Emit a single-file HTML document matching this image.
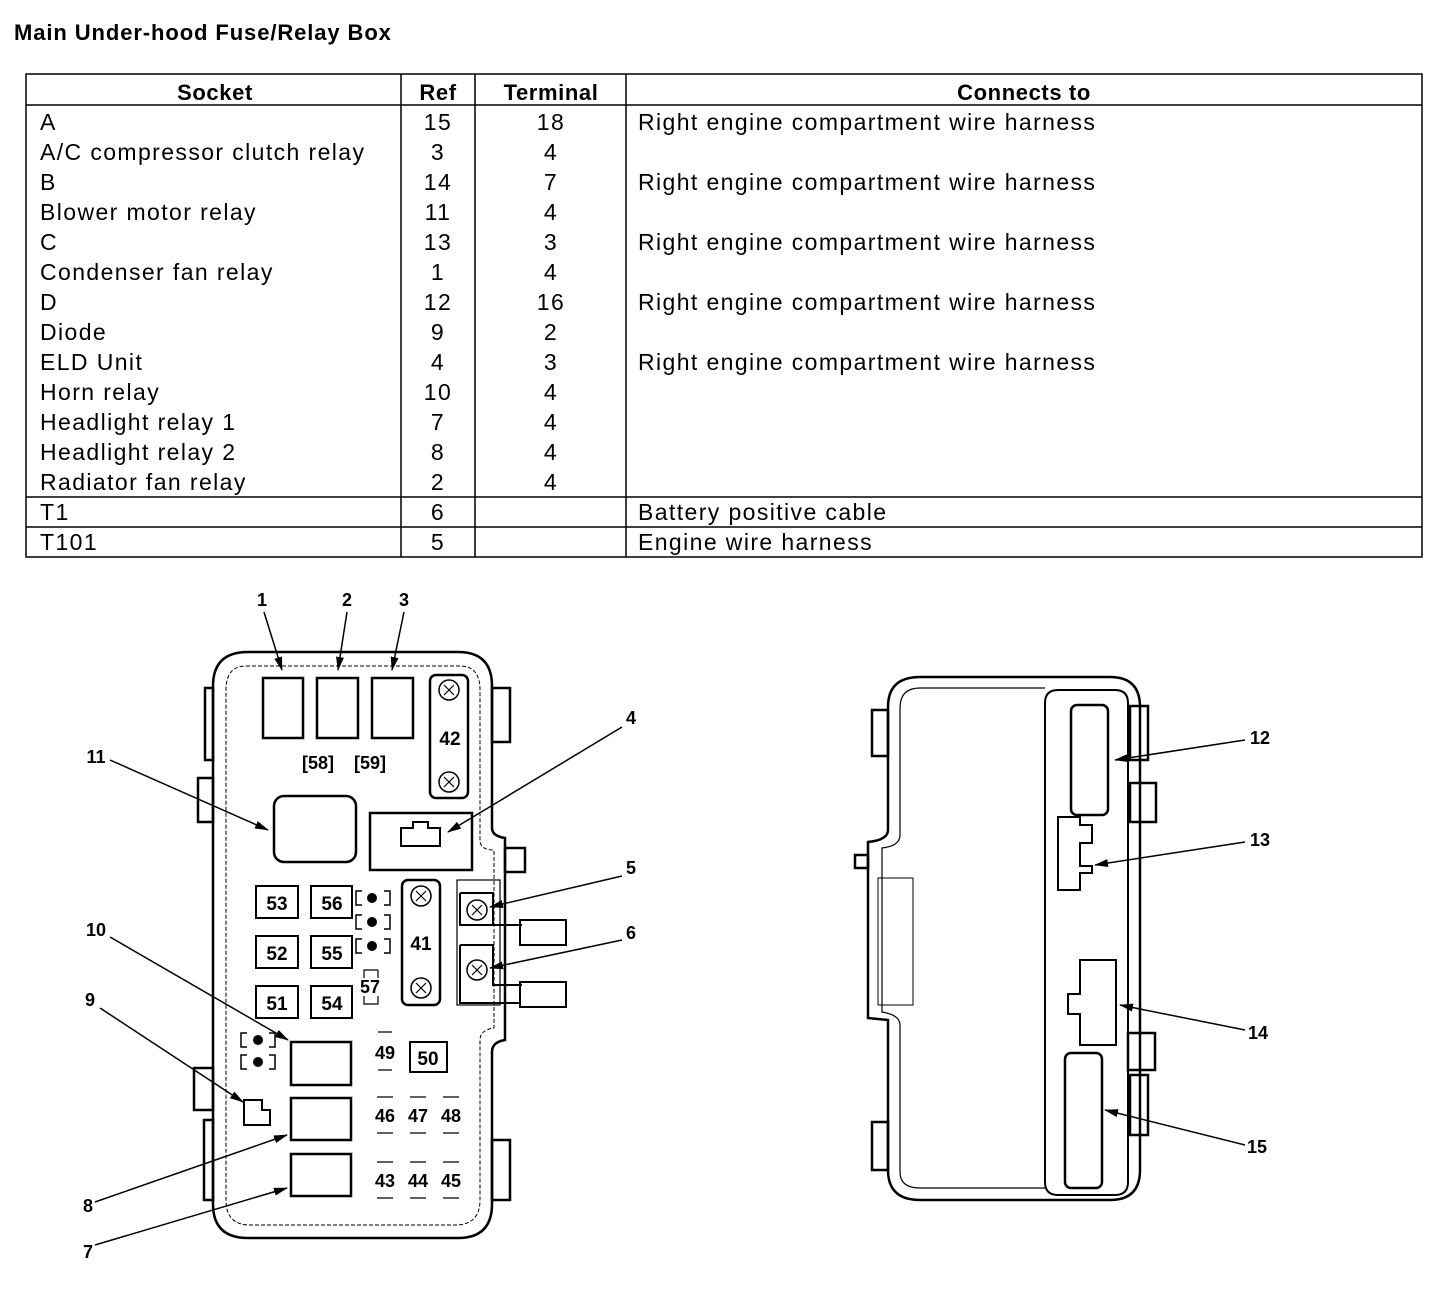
<!DOCTYPE html>
<html><head><meta charset="utf-8"><style>
html,body{margin:0;padding:0;background:#fff;}
svg{display:block;}
text{font-family:"Liberation Sans",Arial,sans-serif;fill:#000;}
.t{font-size:23px;letter-spacing:1.4px;}
.h{font-size:22px;font-weight:bold;letter-spacing:0.6px;}
.n{font-size:18px;font-weight:bold;}
.f{font-size:19px;font-weight:bold;}
</style></head><body>
<svg width="1456" height="1308" viewBox="0 0 1456 1308" xmlns="http://www.w3.org/2000/svg">
<defs><marker id="a" markerWidth="14" markerHeight="8" refX="13" refY="4" orient="auto" markerUnits="userSpaceOnUse"><path d="M0,0 L14,4 L0,8 Z" fill="#000"/></marker>
<g id="x"><path d="M-5,-5 L5,5 M5,-5 L-5,5" stroke="#000" stroke-width="1.2"/></g></defs>
<text x="14" y="40" style="font-size:22px;font-weight:bold;letter-spacing:0.9px">Main Under-hood Fuse/Relay Box</text>
<g fill="none" stroke="#000" stroke-width="1.5">
<rect x="26" y="74" width="1396" height="483"/>
<line x1="26" y1="105" x2="1422" y2="105"/>
<line x1="26" y1="497" x2="1422" y2="497"/>
<line x1="26" y1="527" x2="1422" y2="527"/>
<line x1="401" y1="74" x2="401" y2="557"/>
<line x1="475" y1="74" x2="475" y2="557"/>
<line x1="626" y1="74" x2="626" y2="557"/>
</g>
<text class="h" x="215" y="100" text-anchor="middle">Socket</text>
<text class="h" x="438" y="100" text-anchor="middle">Ref</text>
<text class="h" x="551" y="100" text-anchor="middle">Terminal</text>
<text class="h" x="1024" y="100" text-anchor="middle">Connects to</text>
<g class="t">
<text x="40" y="130">A</text><text x="438" y="130" text-anchor="middle">15</text><text x="551" y="130" text-anchor="middle">18</text><text x="638" y="130">Right engine compartment wire harness</text>
<text x="40" y="160">A/C compressor clutch relay</text><text x="438" y="160" text-anchor="middle">3</text><text x="551" y="160" text-anchor="middle">4</text>
<text x="40" y="190">B</text><text x="438" y="190" text-anchor="middle">14</text><text x="551" y="190" text-anchor="middle">7</text><text x="638" y="190">Right engine compartment wire harness</text>
<text x="40" y="220">Blower motor relay</text><text x="438" y="220" text-anchor="middle">11</text><text x="551" y="220" text-anchor="middle">4</text>
<text x="40" y="250">C</text><text x="438" y="250" text-anchor="middle">13</text><text x="551" y="250" text-anchor="middle">3</text><text x="638" y="250">Right engine compartment wire harness</text>
<text x="40" y="280">Condenser fan relay</text><text x="438" y="280" text-anchor="middle">1</text><text x="551" y="280" text-anchor="middle">4</text>
<text x="40" y="310">D</text><text x="438" y="310" text-anchor="middle">12</text><text x="551" y="310" text-anchor="middle">16</text><text x="638" y="310">Right engine compartment wire harness</text>
<text x="40" y="340">Diode</text><text x="438" y="340" text-anchor="middle">9</text><text x="551" y="340" text-anchor="middle">2</text>
<text x="40" y="370">ELD Unit</text><text x="438" y="370" text-anchor="middle">4</text><text x="551" y="370" text-anchor="middle">3</text><text x="638" y="370">Right engine compartment wire harness</text>
<text x="40" y="400">Horn relay</text><text x="438" y="400" text-anchor="middle">10</text><text x="551" y="400" text-anchor="middle">4</text>
<text x="40" y="430">Headlight relay 1</text><text x="438" y="430" text-anchor="middle">7</text><text x="551" y="430" text-anchor="middle">4</text>
<text x="40" y="460">Headlight relay 2</text><text x="438" y="460" text-anchor="middle">8</text><text x="551" y="460" text-anchor="middle">4</text>
<text x="40" y="490">Radiator fan relay</text><text x="438" y="490" text-anchor="middle">2</text><text x="551" y="490" text-anchor="middle">4</text>
<text x="40" y="520">T1</text><text x="438" y="520" text-anchor="middle">6</text><text x="638" y="520">Battery positive cable</text>
<text x="40" y="550">T101</text><text x="438" y="550" text-anchor="middle">5</text><text x="638" y="550">Engine wire harness</text>
</g>

<!-- LEFT BOX -->
<g fill="none" stroke="#000" stroke-width="2.5">
<path d="M248,652 H458 Q492,652 492,686 V828 Q492,836 505,838 V1040 Q492,1042 492,1052 V1204 Q492,1238 458,1238 H248 Q213,1238 213,1204 V686 Q213,652 248,652 Z"/>
<path d="M205,688 H213 V760 H205 Z M198,778 H213 V822 H198 Z M194,1068 H213 V1110 H194 Z M204,1120 H213 V1200 H204 Z M492,688 H510 V742 H492 Z M492,1140 H510 V1200 H492 Z M505,848 H525 V872 H505 Z"/>
<rect x="263" y="678" width="40" height="60"/>
<rect x="317" y="678" width="41" height="60"/>
<rect x="372" y="678" width="41" height="60"/>
<rect x="430" y="675" width="38" height="123" rx="6"/>
<circle cx="449" cy="690" r="10" stroke-width="1.5"/>
<circle cx="449" cy="782" r="10" stroke-width="1.5"/>
<rect x="274" y="796" width="82" height="66" rx="10"/>
<rect x="370" y="813" width="102" height="57"/>
<path d="M401,846 V828 H413 V822 H428 V828 H440 V846 Z" stroke-width="2"/>
<rect x="256" y="886" width="42" height="32" stroke-width="2"/>
<rect x="311" y="886" width="41" height="32" stroke-width="2"/>
<rect x="256" y="936" width="42" height="32" stroke-width="2"/>
<rect x="311" y="936" width="41" height="32" stroke-width="2"/>
<rect x="256" y="986" width="42" height="32" stroke-width="2"/>
<rect x="311" y="986" width="41" height="32" stroke-width="2"/>
<rect x="402" y="880" width="38" height="125" rx="6"/>
<circle cx="421" cy="896" r="10" stroke-width="1.5"/>
<circle cx="421" cy="988" r="10" stroke-width="1.5"/>
<rect x="457" y="880" width="43" height="125" stroke-width="1.2"/>
<path d="M460,893 H493 V925 H522 M460,893 V925 H520" stroke-width="2"/>
<path d="M460,945 H493 V985 H522 M460,945 V1003 H520" stroke-width="2"/>
<rect x="520" y="920" width="46" height="25" stroke-width="2"/>
<rect x="520" y="982" width="46" height="25" stroke-width="2"/>
<circle cx="477" cy="910" r="10" stroke-width="1.5"/>
<circle cx="477" cy="970" r="10" stroke-width="1.5"/>
<rect x="291" y="1042" width="60" height="43"/>
<rect x="291" y="1098" width="60" height="42"/>
<rect x="291" y="1154" width="60" height="42"/>
<path d="M244,1100 H262 V1110 H270 V1125 H244 Z" stroke-width="2"/>
<rect x="410" y="1042" width="37" height="30" stroke-width="2"/>
</g>
<use href="#x" x="449" y="690"/><use href="#x" x="449" y="782"/><use href="#x" x="421" y="896"/><use href="#x" x="421" y="988"/><use href="#x" x="477" y="910"/><use href="#x" x="477" y="970"/>
<path d="M246,666 H460 Q480,666 480,690 V840 Q480,850 494,850 V1028 Q480,1030 480,1040 V1200 Q480,1225 455,1225 H250 Q226,1225 226,1200 V690 Q226,666 246,666 Z" fill="none" stroke="#000" stroke-width="1" stroke-dasharray="4,2"/>
<g fill="none" stroke="#000" stroke-width="1.5">
<path d="M362,891 H356 V905 H362 M384,891 H390 V905 H384"/><path d="M362,915 H356 V929 H362 M384,915 H390 V929 H384"/><path d="M362,939 H356 V953 H362 M384,939 H390 V953 H384"/>
<path d="M247,1033 H241 V1047 H247 M269,1033 H275 V1047 H269"/><path d="M247,1055 H241 V1069 H247 M269,1055 H275 V1069 H269"/>
</g>
<g fill="#000"><circle cx="372" cy="898" r="5"/><circle cx="372" cy="922" r="5"/><circle cx="372" cy="946" r="5"/><circle cx="258" cy="1040" r="5"/><circle cx="258" cy="1062" r="5"/></g>
<g class="f" text-anchor="middle">
<text x="450" y="745">42</text><text x="421" y="950">41</text>
<text x="277" y="910">53</text><text x="332" y="910">56</text>
<text x="277" y="960">52</text><text x="332" y="960">55</text>
<text x="277" y="1010">51</text><text x="332" y="1010">54</text>
<text x="428" y="1065">50</text>
</g>
<g class="n" text-anchor="middle">
<text x="318" y="769">[58]</text><text x="370" y="769">[59]</text>
<text x="370" y="993">57</text><text x="385" y="1059">49</text>
<text x="385" y="1122">46</text><text x="418" y="1122">47</text><text x="451" y="1122">48</text>
<text x="385" y="1187">43</text><text x="418" y="1187">44</text><text x="451" y="1187">45</text>
</g>
<g fill="none" stroke="#000" stroke-width="1.2">
<path d="M378,970 H364 V978 M378,970 V978 M364,996 V1004 H378 V996"/>
<path d="M378,1032 H392 M378,1070 H392"/>
<path d="M377,1097 H393 M377,1133 H393 M410,1097 H426 M410,1133 H426 M443,1097 H459 M443,1133 H459"/>
<path d="M377,1162 H393 M377,1198 H393 M410,1162 H426 M410,1198 H426 M443,1162 H459 M443,1198 H459"/>
</g>

<g stroke="#000" stroke-width="1.5" marker-end="url(#a)">
<line x1="264" y1="612" x2="282" y2="670"/>
<line x1="347" y1="612" x2="338" y2="670"/>
<line x1="404" y1="612" x2="392" y2="670"/>
<line x1="622" y1="727" x2="448" y2="832"/>
<line x1="110" y1="760" x2="268" y2="830"/>
<line x1="110" y1="937" x2="288" y2="1040"/>
<line x1="100" y1="1008" x2="243" y2="1102"/>
<line x1="95" y1="1202" x2="287" y2="1135"/>
<line x1="95" y1="1245" x2="287" y2="1188"/>
<line x1="622" y1="876" x2="490" y2="907"/>
<line x1="622" y1="940" x2="490" y2="968"/>
<line x1="1245" y1="740" x2="1115" y2="760"/>
<line x1="1245" y1="842" x2="1095" y2="865"/>
<line x1="1245" y1="1030" x2="1120" y2="1005"/>
<line x1="1245" y1="1145" x2="1105" y2="1110"/>
</g>
<g class="n" text-anchor="middle">
<text x="262" y="606">1</text><text x="347" y="606">2</text><text x="404" y="606">3</text>
<text x="631" y="724">4</text><text x="631" y="874">5</text><text x="631" y="939">6</text>
<text x="96" y="763">11</text><text x="96" y="936">10</text><text x="90" y="1006">9</text>
<text x="88" y="1212">8</text><text x="88" y="1258">7</text>
<text x="1260" y="744">12</text><text x="1260" y="846">13</text><text x="1258" y="1039">14</text><text x="1257" y="1153">15</text>
</g>

<!-- RIGHT BOX -->
<g fill="none" stroke="#000" stroke-width="2.5">
<path d="M920,677 H1110 Q1140,677 1140,707 V1170 Q1140,1200 1110,1200 H920 Q888,1200 888,1170 V1020 Q888,1020 868,1018 V842 Q888,840 888,830 V707 Q888,677 920,677 Z"/>
<path d="M872,710 H888 V756 H872 Z M855,855 H868 V868 H855 Z M872,1122 H888 V1170 H872 Z M1130,706 H1148 V760 H1130 Z M1130,783 H1156 V822 H1130 Z M1128,1033 H1155 V1070 H1128 Z M1130,1075 H1148 V1135 H1130 Z"/>
<path d="M1058,690 H1115 Q1128,690 1128,703 V1182 Q1128,1195 1115,1195 H1058 Q1045,1195 1045,1182 V703 Q1045,690 1058,690 Z" stroke-width="2"/>
<rect x="1071" y="705" width="37" height="110" rx="6"/>
<path d="M1058,817 H1080 V825 H1092 V843 H1080 V866 H1092 V873 H1080 V890 H1058 Z" stroke-width="2"/>
<path d="M1080,960 H1116 V1045 H1080 V1014 H1068 V994 H1080 Z" stroke-width="2"/>
<rect x="1065" y="1053" width="37" height="135" rx="6"/>
</g>
<rect x="878" y="878" width="35" height="127" fill="none" stroke="#000" stroke-width="1"/>
<path d="M1045,688 H920 Q900,688 900,708 V835 Q900,846 882,848 V1012 Q900,1015 900,1025 V1172 Q900,1188 920,1188 H1045" fill="none" stroke="#000" stroke-width="1.2"/>
</svg>
</body></html>
